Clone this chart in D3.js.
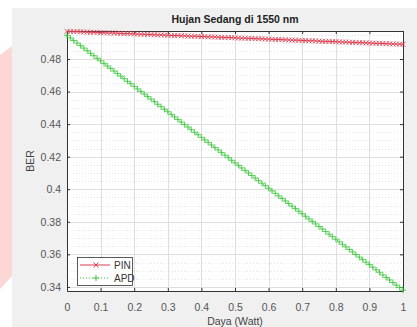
<!DOCTYPE html>
<html>
<head>
<meta charset="utf-8">
<script src="https://cdn.jsdelivr.net/npm/d3@7"></script>
<style>
  body { margin: 0; background: #ffffff; }
  svg { display: block; font-family: "Liberation Sans", Arial, sans-serif; }
</style>
</head>
<body>
<svg id="chart" width="417" height="327"></svg>
<script>
// daya (Watt), 0 .. 1 step 0.01
var daya = [0,0.01,0.02,0.03,0.04,0.05,0.06,0.07,0.08,0.09,
  0.1,0.11,0.12,0.13,0.14,0.15,0.16,0.17,0.18,0.19,
  0.2,0.21,0.22,0.23,0.24,0.25,0.26,0.27,0.28,0.29,
  0.3,0.31,0.32,0.33,0.34,0.35,0.36,0.37,0.38,0.39,
  0.4,0.41,0.42,0.43,0.44,0.45,0.46,0.47,0.48,0.49,
  0.5,0.51,0.52,0.53,0.54,0.55,0.56,0.57,0.58,0.59,
  0.6,0.61,0.62,0.63,0.64,0.65,0.66,0.67,0.68,0.69,
  0.7,0.71,0.72,0.73,0.74,0.75,0.76,0.77,0.78,0.79,
  0.8,0.81,0.82,0.83,0.84,0.85,0.86,0.87,0.88,0.89,
  0.9,0.91,0.92,0.93,0.94,0.95,0.96,0.97,0.98,0.99,1];

var berPIN = [0.4970,0.4969,0.4968,0.4968,0.4967,0.4966,0.4965,0.4964,0.4964,0.4963,
  0.4962,0.4961,0.4960,0.4960,0.4959,0.4958,0.4957,0.4956,0.4956,0.4955,
  0.4954,0.4953,0.4952,0.4952,0.4951,0.4950,0.4949,0.4948,0.4948,0.4947,
  0.4946,0.4945,0.4944,0.4944,0.4943,0.4942,0.4941,0.4940,0.4940,0.4939,
  0.4938,0.4937,0.4936,0.4936,0.4935,0.4934,0.4933,0.4932,0.4932,0.4931,
  0.4930,0.4929,0.4928,0.4928,0.4927,0.4926,0.4925,0.4924,0.4924,0.4923,
  0.4922,0.4921,0.4920,0.4920,0.4919,0.4918,0.4917,0.4916,0.4916,0.4915,
  0.4914,0.4913,0.4912,0.4912,0.4911,0.4910,0.4909,0.4908,0.4908,0.4907,
  0.4906,0.4905,0.4904,0.4904,0.4903,0.4902,0.4901,0.4900,0.4900,0.4899,
  0.4898,0.4897,0.4896,0.4896,0.4895,0.4894,0.4893,0.4892,0.4892,0.4891,0.4890];

var berAPD = [0.4945,0.4929,0.4914,0.4898,0.4882,0.4867,0.4851,0.4835,0.4820,0.4804,
  0.4789,0.4773,0.4757,0.4742,0.4726,0.4710,0.4695,0.4679,0.4663,0.4648,
  0.4632,0.4616,0.4601,0.4585,0.4569,0.4554,0.4538,0.4522,0.4507,0.4491,
  0.4476,0.4460,0.4444,0.4429,0.4413,0.4397,0.4382,0.4366,0.4350,0.4335,
  0.4319,0.4303,0.4288,0.4272,0.4256,0.4241,0.4225,0.4209,0.4194,0.4178,
  0.4162,0.4147,0.4131,0.4116,0.4100,0.4084,0.4069,0.4053,0.4037,0.4022,
  0.4006,0.3990,0.3975,0.3959,0.3943,0.3928,0.3912,0.3896,0.3881,0.3865,
  0.3850,0.3834,0.3818,0.3803,0.3787,0.3771,0.3756,0.3740,0.3724,0.3709,
  0.3693,0.3677,0.3662,0.3646,0.3630,0.3615,0.3599,0.3583,0.3568,0.3552,
  0.3537,0.3521,0.3505,0.3490,0.3474,0.3458,0.3443,0.3427,0.3411,0.3396,0.3380];

var xTicks = [0,0.1,0.2,0.3,0.4,0.5,0.6,0.7,0.8,0.9,1];
var yTicks = [0.34,0.36,0.38,0.4,0.42,0.44,0.46,0.48];
var yMinor = [0.34,0.345,0.35,0.355,0.36,0.365,0.37,0.375,0.38,0.385,0.39,0.395,
  0.4,0.405,0.41,0.415,0.42,0.425,0.43,0.435,0.44,0.445,0.45,0.455,0.46,0.465,
  0.47,0.475,0.48,0.485,0.49,0.495];
var seriesNames = ["PIN", "APD"];

var svg = d3.select("#chart");

// figure background + watermark strip
svg.append("rect").attr("x", 12).attr("y", 8).attr("width", 405).attr("height", 319).attr("fill", "#f0f0f0");
svg.append("path").attr("d", "M0,55L12,46L12,276L0,289Z").attr("fill", "#fdd6d6");

var pLeft = 67, pRight = 403, pTop = 31, pBottom = 291;

var xScale = d3.scaleLinear().domain([0, 1]).range([pLeft, pRight]);
var yScale = d3.scaleLinear().domain([0.3375, 0.4972]).range([pBottom, pTop]);

svg.append("rect").attr("x", pLeft).attr("y", pTop).attr("width", pRight - pLeft).attr("height", pBottom - pTop).attr("fill", "#ffffff");

// minor grid
svg.append("g").selectAll("line").data(yMinor).enter().append("line")
  .attr("x1", pLeft).attr("x2", pRight)
  .attr("y1", function(d){ return Math.round(yScale(d)) + 0.5; })
  .attr("y2", function(d){ return Math.round(yScale(d)) + 0.5; })
  .attr("stroke", "#e4e4e4").attr("stroke-dasharray", "1,2");

// major grid
svg.append("g").selectAll("line").data(xTicks).enter().append("line")
  .attr("x1", function(d){ return Math.round(xScale(d)) + 0.5; })
  .attr("x2", function(d){ return Math.round(xScale(d)) + 0.5; })
  .attr("y1", pTop).attr("y2", pBottom)
  .attr("stroke", "#dedede");
svg.append("g").selectAll("line").data(yTicks).enter().append("line")
  .attr("x1", pLeft).attr("x2", pRight)
  .attr("y1", function(d){ return Math.round(yScale(d)) + 0.5; })
  .attr("y2", function(d){ return Math.round(yScale(d)) + 0.5; })
  .attr("stroke", "#dedede");

// axes
var xAxis = d3.axisBottom(xScale).tickValues(xTicks).tickSizeInner(-3).tickSizeOuter(0)
  .tickFormat(function(d){ return d3.format("~g")(d); });
var gx = svg.append("g").attr("transform", "translate(0," + pBottom + ")").call(xAxis);
gx.selectAll("text").attr("dy", null).attr("y", 20).attr("fill", "#555555").style("font-size", "10.5px");

var yAxis = d3.axisLeft(yScale).tickValues(yTicks).tickSizeInner(-3).tickSizeOuter(0)
  .tickFormat(function(d){ return d3.format("~g")(d); });
var gy = svg.append("g").attr("transform", "translate(" + pLeft + ",0)").call(yAxis);
gy.selectAll("text").attr("x", -6).attr("fill", "#555555").style("font-size", "10.5px");

svg.selectAll(".domain").attr("stroke", "#333333");
svg.selectAll(".tick line").attr("stroke", "#333333");

// box top/right
svg.append("line").attr("x1", pLeft).attr("x2", pRight).attr("y1", pTop + 0.5).attr("y2", pTop + 0.5).attr("stroke", "#333333");
svg.append("line").attr("x1", pRight + 0.5).attr("x2", pRight + 0.5).attr("y1", pTop).attr("y2", pBottom).attr("stroke", "#333333");
svg.append("g").selectAll("line").data(xTicks).enter().append("line")
  .attr("x1", function(d){ return xScale(d) + 0.5; }).attr("x2", function(d){ return xScale(d) + 0.5; })
  .attr("y1", pTop).attr("y2", pTop + 3).attr("stroke", "#333333");
svg.append("g").selectAll("line").data(yTicks).enter().append("line")
  .attr("x1", pRight - 3).attr("x2", pRight)
  .attr("y1", function(d){ return yScale(d) + 0.5; }).attr("y2", function(d){ return yScale(d) + 0.5; })
  .attr("stroke", "#333333");

var pinColor = "#dc3c50", apdColor = "#3cc83c";

var crossPath = function(x, y, s){ return "M" + (x - s) + "," + (y - s) + "L" + (x + s) + "," + (y + s) + "M" + (x - s) + "," + (y + s) + "L" + (x + s) + "," + (y - s); };
var plusPath = function(x, y, s){ return "M" + (x - s) + "," + y + "L" + (x + s) + "," + y + "M" + x + "," + (y - s) + "L" + x + "," + (y + s); };

var pinPoints = daya.map(function(d, i){ return [d, berPIN[i]]; });
var apdPoints = daya.map(function(d, i){ return [d, berAPD[i]]; });

var line = d3.line().x(function(p){ return xScale(p[0]); }).y(function(p){ return yScale(p[1]); });

var plot = svg.append("g");
plot.append("path").attr("d", line(pinPoints)).attr("fill", "none").attr("stroke", pinColor).attr("stroke-width", 1);
plot.append("path").attr("d", pinPoints.map(function(p){ return crossPath(xScale(p[0]), yScale(p[1]), 2.5); }).join(""))
  .attr("fill", "none").attr("stroke", pinColor).attr("stroke-width", 1).attr("opacity", 0.8);

plot.append("path").attr("d", line(apdPoints)).attr("fill", "none").attr("stroke", apdColor).attr("stroke-width", 1).attr("stroke-dasharray", "1,2");
plot.append("path").attr("d", apdPoints.map(function(p){ return plusPath(xScale(p[0]), yScale(p[1]), 3); }).join(""))
  .attr("fill", "none").attr("stroke", apdColor).attr("stroke-width", 1).attr("opacity", 0.85);

// legend
var lg = svg.append("g");
lg.append("rect").attr("x", 77.5).attr("y", 257.5).attr("width", 55).attr("height", 28)
  .attr("fill", "#ffffff").attr("stroke", "#333333").attr("stroke-width", 0.8);
[pinColor, apdColor].forEach(function(c, i){
  var y = 265 + i * 13;
  lg.append("line").attr("x1", 80).attr("x2", 110).attr("y1", y).attr("y2", y)
    .attr("stroke", c).attr("stroke-dasharray", i === 1 ? "1,2" : null);
  lg.append("path").attr("d", i === 0 ? crossPath(96, y, 2.5) : plusPath(96, y, 3))
    .attr("fill", "none").attr("stroke", c);
  lg.append("text").attr("x", 114).attr("y", y + 3.5).text(seriesNames[i])
    .attr("fill", "#333333").style("font-size", "10px");
});

// titles
svg.append("text").attr("x", (pLeft + pRight) / 2).attr("y", 23).attr("text-anchor", "middle")
  .style("font-size", "10.5px").style("font-weight", "bold").attr("fill", "#222222")
  .text("Hujan Sedang di 1550 nm");
svg.append("text").attr("x", (pLeft + pRight) / 2).attr("y", 325).attr("text-anchor", "middle")
  .style("font-size", "10.5px").attr("fill", "#444444").text("Daya (Watt)");
svg.append("text").attr("transform", "translate(34," + ((pTop + pBottom) / 2) + ") rotate(-90)")
  .attr("text-anchor", "middle").style("font-size", "10.5px").attr("fill", "#444444").text("BER");
</script>
</body>
</html>
